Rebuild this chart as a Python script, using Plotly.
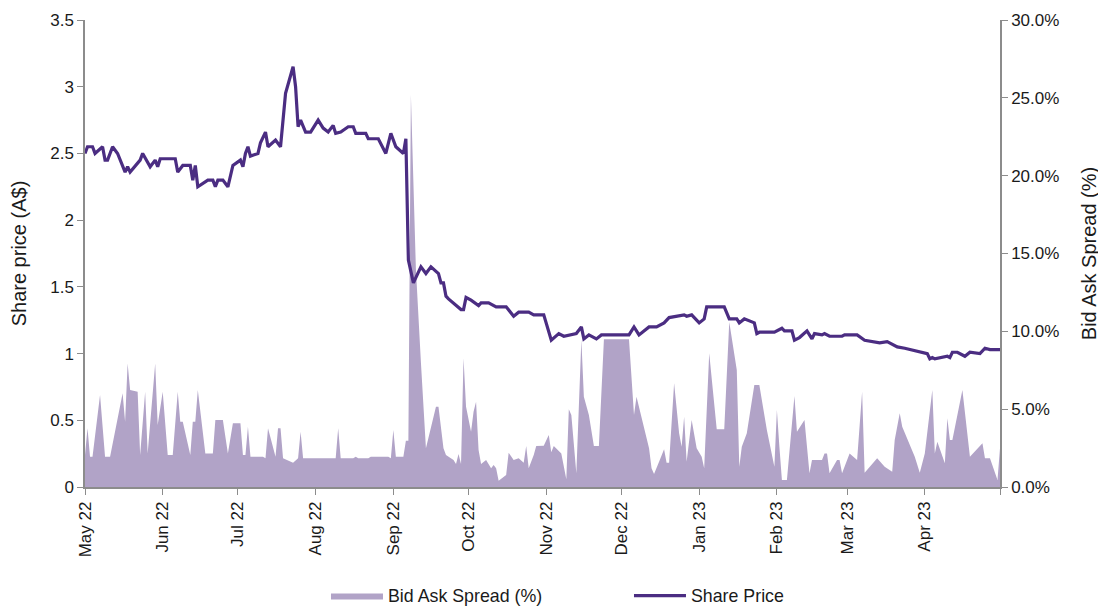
import pandas as pd
import plotly.graph_objects as go

# Share price (A$) at each vertex of the line
price_dates = [
    "2022-05-01", "2022-05-02", "2022-05-04", "2022-05-05", "2022-05-08", "2022-05-09", "2022-05-10",
    "2022-05-12", "2022-05-14", "2022-05-17", "2022-05-18", "2022-05-19", "2022-05-23", "2022-05-24",
    "2022-05-27", "2022-05-29", "2022-05-30", "2022-05-31",
    "2022-06-06", "2022-06-07", "2022-06-09", "2022-06-12", "2022-06-13", "2022-06-14", "2022-06-15",
    "2022-06-19", "2022-06-21", "2022-06-22", "2022-06-23", "2022-06-25", "2022-06-27", "2022-06-29",
    "2022-07-02", "2022-07-03", "2022-07-04", "2022-07-05", "2022-07-06", "2022-07-09", "2022-07-10",
    "2022-07-12", "2022-07-13", "2022-07-16", "2022-07-18", "2022-07-20", "2022-07-23", "2022-07-24",
    "2022-07-25", "2022-07-26", "2022-07-28", "2022-07-30",
    "2022-08-02", "2022-08-04", "2022-08-06", "2022-08-08", "2022-08-09", "2022-08-11", "2022-08-14",
    "2022-08-16", "2022-08-17", "2022-08-21", "2022-08-22", "2022-08-26", "2022-08-29", "2022-08-31",
    "2022-09-02", "2022-09-05", "2022-09-06", "2022-09-07", "2022-09-09", "2022-09-12", "2022-09-14",
    "2022-09-16", "2022-09-19", "2022-09-20", "2022-09-21", "2022-09-22", "2022-09-23", "2022-09-25",
    "2022-09-28", "2022-09-29", "2022-09-30",
    "2022-10-02", "2022-10-05", "2022-10-06", "2022-10-09", "2022-10-12", "2022-10-16", "2022-10-19",
    "2022-10-21", "2022-10-25", "2022-10-27", "2022-10-31",
    "2022-11-03", "2022-11-06", "2022-11-08", "2022-11-13", "2022-11-15", "2022-11-16", "2022-11-18",
    "2022-11-21", "2022-11-23",
    "2022-12-04", "2022-12-06", "2022-12-08", "2022-12-12", "2022-12-15", "2022-12-18", "2022-12-20",
    "2022-12-26", "2022-12-27", "2022-12-29",
    "2023-01-01", "2023-01-03", "2023-01-04", "2023-01-11", "2023-01-13", "2023-01-16", "2023-01-17",
    "2023-01-19", "2023-01-23", "2023-01-24", "2023-01-25", "2023-01-31",
    "2023-02-03", "2023-02-04", "2023-02-07", "2023-02-08", "2023-02-10", "2023-02-13", "2023-02-15",
    "2023-02-16", "2023-02-19", "2023-02-20", "2023-02-22", "2023-02-27", "2023-02-28",
    "2023-03-05", "2023-03-08", "2023-03-14", "2023-03-17", "2023-03-20", "2023-03-21", "2023-03-24",
    "2023-03-28", "2023-03-31",
    "2023-04-02", "2023-04-03", "2023-04-04", "2023-04-05", "2023-04-07", "2023-04-10", "2023-04-11",
    "2023-04-12", "2023-04-14", "2023-04-17", "2023-04-19", "2023-04-23", "2023-04-25", "2023-04-27",
    "2023-05-01",
]
share_price = [
    2.50, 2.55, 2.55, 2.50, 2.55, 2.45, 2.45, 2.55, 2.50, 2.36, 2.40, 2.36, 2.45, 2.50, 2.40, 2.45, 2.40, 2.46,
    2.46, 2.36, 2.41, 2.41, 2.30, 2.41, 2.25, 2.30, 2.30, 2.25, 2.30, 2.30, 2.25, 2.41,
    2.45, 2.40, 2.50, 2.55, 2.48, 2.50, 2.58, 2.66, 2.55, 2.60, 2.55, 2.95, 3.15, 3.00, 2.70, 2.75, 2.66, 2.66,
    2.75, 2.69, 2.66, 2.71, 2.65, 2.66, 2.70, 2.70, 2.65, 2.65, 2.61, 2.61, 2.50, 2.65,
    2.55, 2.50, 2.61, 1.70, 1.53, 1.65, 1.60, 1.65, 1.60, 1.53, 1.53, 1.43, 1.41, 1.38, 1.33, 1.33, 1.42,
    1.40, 1.36, 1.38, 1.38, 1.35, 1.35, 1.28, 1.31, 1.31, 1.29, 1.29,
    1.10, 1.15, 1.13, 1.15, 1.20, 1.11, 1.14, 1.11, 1.14,
    1.14, 1.20, 1.14, 1.20, 1.20, 1.23, 1.27, 1.29, 1.28, 1.29,
    1.23, 1.26, 1.35, 1.35, 1.26, 1.26, 1.23, 1.26, 1.23, 1.15, 1.16, 1.16,
    1.19, 1.17, 1.17, 1.10, 1.12, 1.17, 1.11, 1.15, 1.14, 1.15, 1.13, 1.13, 1.14,
    1.14, 1.10, 1.08, 1.09, 1.06, 1.05, 1.04, 1.02, 1.01,
    1.00, 0.96, 0.97, 0.96, 0.97, 0.98, 0.97, 1.01, 1.01, 0.98, 1.01, 1.00, 1.04, 1.03, 1.03,
]

# Bid ask spread (%)
spread_dates = [
    "2022-05-01", "2022-05-02", "2022-05-03", "2022-05-04", "2022-05-07", "2022-05-09", "2022-05-11",
    "2022-05-16", "2022-05-17", "2022-05-18", "2022-05-19", "2022-05-22", "2022-05-23", "2022-05-25",
    "2022-05-26", "2022-05-29", "2022-05-30",
    "2022-06-01", "2022-06-03", "2022-06-05", "2022-06-07", "2022-06-08", "2022-06-09", "2022-06-12",
    "2022-06-13", "2022-06-14", "2022-06-15", "2022-06-18", "2022-06-21", "2022-06-22", "2022-06-25",
    "2022-06-27", "2022-06-29",
    "2022-07-02", "2022-07-03", "2022-07-04", "2022-07-05", "2022-07-06", "2022-07-11", "2022-07-12",
    "2022-07-13", "2022-07-16", "2022-07-17", "2022-07-18", "2022-07-19", "2022-07-21", "2022-07-23",
    "2022-07-25", "2022-07-26", "2022-07-27",
    "2022-08-09", "2022-08-10", "2022-08-11", "2022-08-16", "2022-08-17", "2022-08-18", "2022-08-22",
    "2022-08-23", "2022-08-30", "2022-08-31",
    "2022-09-01", "2022-09-02", "2022-09-05", "2022-09-06", "2022-09-07", "2022-09-08", "2022-09-10",
    "2022-09-12", "2022-09-14", "2022-09-18", "2022-09-19", "2022-09-21", "2022-09-22", "2022-09-25",
    "2022-09-26", "2022-09-27", "2022-09-28", "2022-09-29", "2022-09-30",
    "2022-10-02", "2022-10-03", "2022-10-04", "2022-10-05", "2022-10-06", "2022-10-08", "2022-10-10",
    "2022-10-11", "2022-10-12", "2022-10-13", "2022-10-16", "2022-10-17", "2022-10-19", "2022-10-21",
    "2022-10-23", "2022-10-24", "2022-10-25", "2022-10-27", "2022-10-28", "2022-10-31",
    "2022-11-02", "2022-11-03", "2022-11-04", "2022-11-07", "2022-11-09", "2022-11-10", "2022-11-11",
    "2022-11-13", "2022-11-15", "2022-11-16", "2022-11-18", "2022-11-20", "2022-11-22", "2022-11-24",
    "2022-12-04", "2022-12-06", "2022-12-07", "2022-12-12", "2022-12-13", "2022-12-14", "2022-12-16",
    "2022-12-18", "2022-12-19", "2022-12-20", "2022-12-22", "2022-12-24", "2022-12-25", "2022-12-26",
    "2022-12-27", "2022-12-29", "2022-12-31",
    "2023-01-02", "2023-01-03", "2023-01-05", "2023-01-08", "2023-01-11", "2023-01-13", "2023-01-16",
    "2023-01-17", "2023-01-18", "2023-01-20", "2023-01-23", "2023-01-25", "2023-01-28", "2023-01-31",
    "2023-02-01", "2023-02-02", "2023-02-03", "2023-02-05", "2023-02-08", "2023-02-09", "2023-02-12",
    "2023-02-14", "2023-02-15", "2023-02-19", "2023-02-20", "2023-02-21", "2023-02-22", "2023-02-25",
    "2023-02-26", "2023-02-27",
    "2023-03-02", "2023-03-05", "2023-03-07", "2023-03-08", "2023-03-13", "2023-03-16", "2023-03-19",
    "2023-03-20", "2023-03-22", "2023-03-23", "2023-03-28", "2023-03-30",
    "2023-04-01", "2023-04-04", "2023-04-05", "2023-04-06", "2023-04-09", "2023-04-10", "2023-04-11",
    "2023-04-12", "2023-04-16", "2023-04-19", "2023-04-24", "2023-04-25", "2023-04-27", "2023-04-30",
    "2023-05-01",
]
bid_ask_spread = [
    2.06, 3.77, 1.95, 1.95, 5.91, 1.95, 1.95, 6.02, 4.19, 7.94, 6.23, 6.12, 2.06, 6.12, 2.16, 7.94, 3.98,
    6.12, 2.06, 2.06, 6.12, 4.19, 4.19, 2.06, 4.19, 4.19, 6.23, 2.16, 2.16, 4.30, 4.30, 2.16, 4.09,
    4.09, 2.06, 2.06, 3.87, 1.95, 1.95, 1.84, 3.77, 1.95, 3.77, 3.77, 1.84, 1.69, 1.56, 1.84, 3.55, 1.84,
    1.84, 3.77, 1.84, 1.84, 1.95, 1.84, 1.84, 1.95, 1.95, 1.84,
    3.66, 1.95, 1.95, 2.97, 2.97, 25.2, 14.0, 8.0, 2.49, 5.16, 5.16, 2.49, 2.06, 1.73, 1.48, 2.12, 1.48,
    8.27, 5.16,
    3.55, 4.84, 5.48, 2.38, 1.48, 1.73, 1.20, 1.41, 1.20, 0.40, 0.77, 2.20, 1.73, 1.84, 1.56, 2.63, 1.20,
    2.06, 2.63, 2.65,
    3.34, 2.24, 2.63, 2.16, 0.49, 4.99, 4.62, 0.88, 9.44, 5.80, 4.62, 2.63, 2.63, 9.49,
    9.49, 4.62, 5.80, 2.49, 1.20, 0.83, 1.62, 2.42, 1.56, 1.56, 6.66, 3.45, 2.59, 4.52, 1.62, 4.30, 2.49,
    1.95, 1.20, 8.59, 3.71, 3.71, 10.6, 7.51, 1.30, 2.59, 3.45, 6.55, 6.55, 3.66, 1.30,
    4.95, 2.59, 0.45, 0.45, 5.84, 3.55, 4.30, 0.88, 1.73, 1.73, 2.16, 2.16, 0.88, 1.73, 1.73, 0.88,
    2.16, 1.73, 6.12, 0.92, 1.84, 1.30, 0.98, 3.02, 4.73, 3.87, 1.95, 0.92,
    2.16, 6.23, 2.16, 2.91, 1.52, 4.41, 3.02, 3.02, 6.23, 1.95, 2.81, 1.84, 1.84, 0.45, 2.49,
]

month_ticks = pd.date_range("2022-05-01", "2023-05-01", freq="MS")
tick_labels = [d.strftime("%b %y") for d in month_ticks[:-1]] + [""]

FONT = "Liberation Sans, Arial, sans-serif"
AXIS_GREY = "#8c8c8c"

fig = go.Figure()

fig.add_trace(go.Scatter(
    x=pd.to_datetime(spread_dates),
    y=bid_ask_spread,
    name="Bid Ask Spread (%)",
    mode="lines",
    fill="tozeroy",
    fillcolor="#b1a3c7",
    line=dict(width=0, color="#b1a3c7"),
    yaxis="y",
))

fig.add_trace(go.Scatter(
    x=pd.to_datetime(price_dates),
    y=share_price,
    name="Share Price",
    mode="lines",
    line=dict(color="#4b2d82", width=3.2),
    yaxis="y2",
))

# page body keeps its default 8px margin, so the figure is 8px smaller
fig.update_layout(
    width=1098,
    height=602,
    margin=dict(l=77, r=106, t=12, b=123),
    paper_bgcolor="white",
    plot_bgcolor="white",
    font=dict(family=FONT, size=17, color="#1a1a1a"),
    showlegend=True,
    legend=dict(
        orientation="h",
        xref="container", yref="container",
        x=0.2896, xanchor="left",
        y=0.0233, yanchor="middle",
        font=dict(size=17.8),
        itemwidth=52,
        entrywidth=236,
        traceorder="normal",
    ),
    xaxis=dict(
        type="date",
        range=["2022-05-01", "2023-05-01"],
        tickvals=month_ticks,
        ticktext=tick_labels,
        tickangle=-90,
        automargin=False,
        showline=True, linecolor=AXIS_GREY, linewidth=1.5,
        ticks="outside", ticklen=6, tickcolor=AXIS_GREY,
        showgrid=False, zeroline=False,
    ),
    yaxis=dict(
        side="right",
        range=[0, 30],
        dtick=5,
        tickformat=".1f",
        ticksuffix="%",
        title=dict(text="Bid Ask Spread (%)", standoff=24),
        automargin=False,
        showline=True, linecolor=AXIS_GREY, linewidth=1.5,
        ticks="outside", ticklen=6, tickcolor=AXIS_GREY,
        showgrid=False, zeroline=False,
    ),
    yaxis2=dict(
        overlaying="y",
        side="left",
        range=[0, 3.5],
        dtick=0.5,
        title=dict(text="Share price (A$)", standoff=20),
        automargin=False,
        showline=True, linecolor=AXIS_GREY, linewidth=1.5,
        ticks="outside", ticklen=6, tickcolor=AXIS_GREY,
        showgrid=False, zeroline=False,
    ),
)

fig.write_html("out.html")
